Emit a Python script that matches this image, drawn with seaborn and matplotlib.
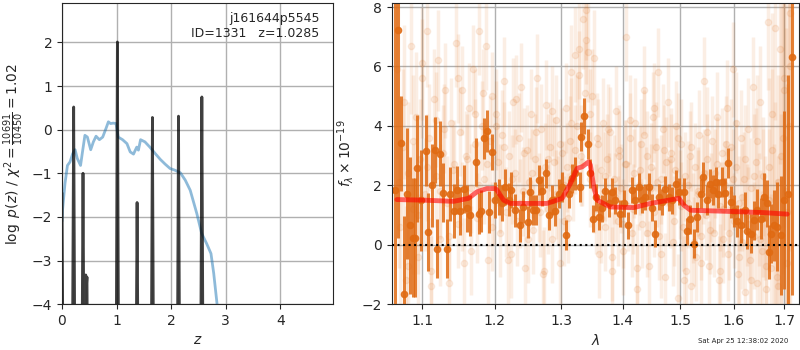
import matplotlib
matplotlib.use("Agg")
import matplotlib.pyplot as plt
from matplotlib.ticker import FixedLocator, NullLocator, ScalarFormatter
import seaborn as sns

# ---- left panel: redshift PDF and chi2 curve ----
pz_z = [0.0, 0.03, 0.18, 0.214, 0.245, 0.355, 0.385, 0.415, 0.42, 0.435, 0.447, 0.458, 0.48,
        0.985, 1.015, 1.045, 1.346, 1.376, 1.406, 1.627, 1.657, 1.687, 2.105, 2.135, 2.165,
        2.533, 2.563, 2.593, 4.9]
pz_logp = [-1.45, -8.0, -8.0, 0.52, -8.0, -8.0, -1.0, -8.0, -6.0, -3.33, -3.6, -3.38, -8.0,
           -8.0, 2.01, -8.0, -8.0, -1.67, -8.0, -8.0, 0.28, -8.0, -8.0, 0.31, -8.0,
           -8.0, 0.75, -8.0, -8.0]

chi_z = [0.0, 0.01, 0.055, 0.10, 0.147, 0.196, 0.24, 0.28, 0.34, 0.38, 0.42, 0.465, 0.526,
         0.575, 0.624, 0.685, 0.746, 0.807, 0.85, 0.89, 0.94, 0.99, 1.03, 1.11, 1.19, 1.25,
         1.31, 1.37, 1.40, 1.44, 1.52, 1.61, 1.71, 1.80, 1.89, 1.98, 2.07, 2.17, 2.26, 2.35,
         2.47, 2.56, 2.65, 2.73, 2.78, 2.84, 2.90]
chi_val = [-2.1, -1.84, -1.23, -0.82, -0.74, -0.55, -0.46, -0.66, -0.82, -0.47, -0.13, -0.17,
           -0.46, -0.28, -0.15, -0.23, -0.17, 0.03, 0.18, 0.14, 0.15, 0.14, -0.17, -0.23, -0.32,
           -0.51, -0.56, -0.40, -0.47, -0.23, -0.28, -0.40, -0.55, -0.68, -0.79, -0.89, -0.93,
           -0.99, -1.16, -1.39, -1.92, -2.38, -2.61, -2.84, -3.29, -3.98, -5.0]

# ---- right panel: spectrum ----
dark_wave = [1.0644, 1.0687, 1.0721, 1.0752, 1.0795, 1.0830, 1.0873, 1.0904, 1.0934, 1.0978,
             1.1045, 1.1080, 1.1125, 1.1170, 1.1192, 1.1228, 1.1269, 1.1328, 1.1373, 1.1419,
             1.1465, 1.1511, 1.1567, 1.1604, 1.1651, 1.1726, 1.1768, 1.1806, 1.1839, 1.1887,
             1.1916, 1.1959, 1.2007, 1.2055, 1.2104, 1.2152, 1.2201, 1.2241, 1.2300, 1.2364,
             1.2414, 1.2484, 1.2524, 1.2564, 1.2615, 1.2650, 1.2701, 1.2768, 1.2804, 1.2855,
             1.2907, 1.2959, 1.3011, 1.3069, 1.3121, 1.3169, 1.3222, 1.3291, 1.3318, 1.3366,
             1.3420, 1.3463, 1.3506, 1.3555, 1.3599, 1.3654, 1.3709, 1.3764, 1.3819, 1.3875,
             1.3947, 1.4015, 1.4088, 1.4156, 1.4213, 1.4270, 1.4328, 1.4385, 1.4443, 1.4502,
             1.4560, 1.4618, 1.4677, 1.4736, 1.4796, 1.4855, 1.4915, 1.4975, 1.5066, 1.5126,
             1.5175, 1.5248, 1.5309, 1.5371, 1.5421, 1.5483, 1.5539, 1.5601, 1.5651, 1.5702,
             1.5778, 1.5828, 1.5886, 1.5937, 1.6001, 1.6066, 1.6143, 1.6208, 1.6260, 1.6326,
             1.6391, 1.6457, 1.6524, 1.6590, 1.6643, 1.6690, 1.6737, 1.6791, 1.6859, 1.6927,
             1.6995, 1.7077, 1.7166]
dark_flux = [1.84, 7.24, 3.41, -1.65, 1.72, 0.65, 0.24, 0.24, 2.57, 1.50,
             3.16, 0.43, 2.00, 3.19, -0.13, 3.07, 1.75, -0.13, 1.70, 1.14,
             1.84, 1.14, 1.87, 1.22, 0.99, 2.79, 1.05, 1.14, 3.58, 3.83,
             1.10, 3.11, 1.50, 1.61, 1.41, 1.95, 1.52, 1.84, 1.16, 0.65,
             1.27, 0.77, 1.78, 1.18, 1.16, 2.17, 1.81, 2.40, 0.99, 1.50,
             1.14, 1.72, 1.95, 0.32, 1.72, 2.23, 2.40, 1.95, 3.64, 4.33,
             3.39, 2.40, 0.88, 1.59, 0.94, 1.22, 1.81, 1.39, 1.78, 1.50,
             1.05, 1.39, 0.65, 1.84, 1.50, 1.95, 1.52, 1.61, 1.95, 1.25,
             0.37, 1.61, 1.44, 1.86, 1.59, 1.50, 2.06, 1.78, 1.78, 0.45,
             0.85, 0.04, 0.94, 1.72, 2.29, 1.50, 2.06, 1.84, 2.12, 1.72,
             2.12, 1.75, 2.74, 1.44, 1.14, 0.80, 0.65, 1.16, 0.45, 0.37,
             0.82, 1.18, 0.88, 1.61, 1.39, -0.25, 0.37, 0.65, 0.60, 0.32,
             1.50, 1.72, 6.31]
dark_err = [8.0, 7.0, 1.6, 2.6, 2.2, 2.3, 2.0, 2.0, 1.8, 1.7,
            1.2, 1.3, 1.4, 1.1, 1.0, 1.1, 1.0, 1.0, 0.9, 0.9,
            0.8, 0.8, 0.8, 0.8, 0.7, 0.8, 0.7, 0.7, 0.7, 0.7,
            0.7, 0.6, 0.6, 0.6, 0.6, 0.6, 0.55, 0.6, 0.55, 0.55,
            0.55, 0.55, 0.5, 0.5, 0.5, 0.5, 0.5, 0.5, 0.5, 0.5,
            0.5, 0.5, 0.5, 0.5, 0.5, 0.5, 0.55, 0.5, 0.5, 0.6,
            0.5, 0.5, 0.45, 0.45, 0.45, 0.45, 0.45, 0.45, 0.45, 0.45,
            0.45, 0.45, 0.45, 0.45, 0.45, 0.45, 0.45, 0.45, 0.45, 0.45,
            0.45, 0.45, 0.45, 0.45, 0.45, 0.45, 0.45, 0.45, 0.45, 0.45,
            0.5, 0.5, 0.5, 0.5, 0.5, 0.5, 0.5, 0.5, 0.5, 0.5,
            0.5, 0.5, 0.5, 0.55, 0.55, 0.55, 0.6, 0.6, 0.6, 0.65,
            0.65, 0.7, 0.7, 0.8, 0.8, 0.9, 1.0, 1.2, 1.5, 2.0,
            3.0, 4.0, 8.0]

# faint points, first set of beams
faint_wave = [1.067, 1.071, 1.074, 1.078, 1.081, 1.085, 1.088, 1.091, 1.094, 1.097,
              1.100, 1.103, 1.106, 1.109, 1.112, 1.115, 1.118, 1.121, 1.124, 1.127,
              1.130, 1.133, 1.136, 1.139, 1.142, 1.145, 1.148, 1.151, 1.154, 1.157,
              1.160, 1.163, 1.166, 1.169, 1.172, 1.175, 1.178, 1.181, 1.184, 1.187,
              1.190, 1.193, 1.196, 1.199, 1.202, 1.205, 1.208, 1.211, 1.214, 1.217,
              1.220, 1.223, 1.226, 1.229, 1.232, 1.235, 1.238, 1.241, 1.244, 1.247,
              1.250, 1.253, 1.256, 1.259, 1.262, 1.265, 1.268, 1.271, 1.274, 1.277,
              1.280, 1.283, 1.286, 1.289, 1.292, 1.295, 1.298, 1.301, 1.304, 1.307,
              1.310, 1.313, 1.316, 1.319, 1.322, 1.325, 1.328, 1.331, 1.334, 1.337,
              1.340, 1.343, 1.346, 1.349, 1.352, 1.355, 1.358, 1.361, 1.364, 1.367,
              1.370, 1.373, 1.376, 1.379, 1.382, 1.385, 1.388, 1.391, 1.394, 1.397,
              1.400, 1.403, 1.406, 1.409, 1.412, 1.415, 1.418, 1.421, 1.424, 1.427,
              1.430, 1.433, 1.436, 1.439, 1.442, 1.445, 1.448, 1.451, 1.454, 1.457,
              1.460, 1.463, 1.466, 1.469, 1.472, 1.475, 1.478, 1.481, 1.484, 1.487,
              1.490, 1.493, 1.496, 1.499, 1.502, 1.505, 1.508, 1.511, 1.514, 1.517,
              1.520, 1.523, 1.526, 1.529, 1.532, 1.535, 1.538, 1.541, 1.544, 1.547,
              1.550, 1.553, 1.556, 1.559, 1.562, 1.565, 1.568, 1.571, 1.574, 1.577,
              1.580, 1.583, 1.586, 1.589, 1.592, 1.595, 1.598, 1.601, 1.604, 1.607,
              1.610, 1.613, 1.616, 1.619, 1.622, 1.625, 1.628, 1.631, 1.634, 1.637,
              1.640, 1.643, 1.646, 1.649, 1.652, 1.655, 1.658, 1.661, 1.664, 1.667,
              1.670, 1.673, 1.676, 1.679, 1.682, 1.685, 1.688, 1.691, 1.694, 1.697,
              1.700, 1.703, 1.706, 1.709, 1.712]
faint_flux = [5.9, 0.6, 3.3, -1.2, 2.4, 6.7, 1.2, 4.3, -0.4, 2.9,
              5.6, 1.7, 7.2, 3.6, -0.9, 4.9, 2.3, 6.2, 0.2, 3.1,
              5.2, 1.4, -1.3, 4.1, 2.7, 6.8, 0.7, 3.8, 5.2, -0.6,
              2.9, 4.6, 1.9, 5.9, 3.4, 0.9, 7.2, 4.0, 2.2, 6.7,
              -0.5, 3.5, 5.0, 1.5, 4.4, 2.8, 0.4, 3.7, 5.5, 1.1,
              3.0, -0.3, 4.8, 2.4, 0.8, 3.6, 5.3, 1.8, -0.8, 3.2,
              2.1, 4.4, 0.5, 2.9, 5.6, 1.6, 3.9, -1.0, 2.6, 4.7,
              1.2, 3.3, 0.2, 2.8, 4.2, 1.5, -0.6, 3.1, 2.0, 4.6,
              0.9, 3.5, 5.8, 2.4, 6.4, 4.0, 6.6, 3.0, 7.6, 5.1,
              7.9, 6.5, 2.2, 5.0, 6.3, 1.2, 3.4, -0.3, 2.5, 4.1,
              0.6, 2.9, 1.6, 3.8, -0.9, 2.2, 4.5, 0.8, 3.2, 1.9,
              -0.2, 2.7, 7.0, 1.3, 3.6, 0.4, 2.4, 4.1, -1.5, 2.0,
              3.4, 0.7, 5.2, 1.8, 3.0, -0.7, 2.6, 4.3, 1.1, 3.3,
              5.8, 0.3, 2.2, 3.9, -1.1, 2.8, 4.8, 1.4, 3.1, 0.1,
              2.5, 4.0, -1.8, 1.7, 3.4, 0.6, 2.3, -0.9, 1.4, 3.0,
              -1.4, 0.9, 2.6, -0.4, 1.8, 3.7, 0.3, 2.2, 5.5, 1.0,
              2.9, -0.7, 1.6, 3.5, 0.4, 2.4, 4.3, -1.2, 1.3, 3.1,
              0.2, 2.0, 4.6, -0.3, 1.7, 3.3, 5.9, 0.8, 2.6, -1.0,
              1.4, 3.6, 0.1, 2.2, -1.6, 1.0, 3.9, -0.5, 1.9, 5.3,
              0.3, 2.8, -1.3, 1.2, 4.8, -0.2, 2.3, 0.9, -1.5, 7.5,
              1.5, -0.8, 3.2, 0.5, 7.3, -1.1, 2.1, 6.6, 0.2, 3.6,
              5.6, 1.8, -0.6, 4.0, 7.8]
faint_err = [3.0, 2.8, 2.6, 2.5, 2.4, 2.3, 2.2, 2.2, 2.1, 2.0,
             2.0, 1.9, 1.9, 1.8, 1.8, 1.7, 1.7, 1.7, 1.6, 1.6,
             1.6, 1.6, 1.5, 1.5, 1.5, 1.5, 1.5, 1.5, 1.5, 1.5,
             1.5, 1.5, 1.5, 1.5, 1.5, 1.5, 1.5, 1.5, 1.5, 1.5,
             1.5, 1.5, 1.5, 1.5, 1.5, 1.5, 1.5, 1.5, 1.5, 1.5,
             1.5, 1.5, 1.5, 1.5, 1.5, 1.5, 1.5, 1.5, 1.5, 1.5,
             1.5, 1.5, 1.5, 1.5, 1.5, 1.5, 1.5, 1.5, 1.5, 1.5,
             1.5, 1.5, 1.5, 1.5, 1.5, 1.5, 1.5, 1.5, 1.5, 1.5,
             1.5, 1.5, 1.6, 1.6, 1.6, 1.7, 1.7, 1.7, 1.7, 1.7,
             1.7, 1.7, 1.6, 1.6, 1.6, 1.5, 1.5, 1.5, 1.5, 1.5,
             1.5, 1.5, 1.5, 1.5, 1.5, 1.5, 1.5, 1.5, 1.5, 1.5,
             1.5, 1.5, 1.5, 1.5, 1.5, 1.5, 1.5, 1.5, 1.5, 1.5,
             1.5, 1.5, 1.5, 1.5, 1.5, 1.5, 1.5, 1.5, 1.5, 1.5,
             1.5, 1.5, 1.5, 1.5, 1.5, 1.5, 1.5, 1.5, 1.5, 1.5,
             1.5, 1.5, 1.5, 1.5, 1.5, 1.5, 1.5, 1.5, 1.5, 1.5,
             1.5, 1.5, 1.5, 1.5, 1.5, 1.5, 1.5, 1.5, 1.5, 1.5,
             1.5, 1.5, 1.5, 1.5, 1.5, 1.5, 1.5, 1.5, 1.5, 1.5,
             1.5, 1.5, 1.6, 1.6, 1.6, 1.6, 1.6, 1.6, 1.6, 1.6,
             1.6, 1.6, 1.6, 1.6, 1.7, 1.7, 1.7, 1.7, 1.7, 1.7,
             1.8, 1.8, 1.8, 1.9, 1.9, 2.0, 2.0, 2.1, 2.2, 2.3,
             2.4, 2.5, 2.7, 2.9, 3.1, 3.3, 3.6, 3.9, 4.2, 4.6,
             5.0, 5.5, 6.0, 7.0, 8.0]

# faint points, second set of beams
faint2_wave = [1.0695, 1.0755, 1.0815, 1.0875, 1.0935, 1.0995, 1.1055, 1.1115, 1.1175, 1.1235,
               1.1295, 1.1355, 1.1415, 1.1475, 1.1535, 1.1595, 1.1655, 1.1715, 1.1775, 1.1835,
               1.1895, 1.1955, 1.2015, 1.2075, 1.2135, 1.2195, 1.2255, 1.2315, 1.2375, 1.2435,
               1.2495, 1.2555, 1.2615, 1.2675, 1.2735, 1.2795, 1.2855, 1.2915, 1.2975, 1.3035,
               1.3095, 1.3155, 1.3215, 1.3275, 1.3335, 1.3395, 1.3455, 1.3515, 1.3575, 1.3635,
               1.3695, 1.3755, 1.3815, 1.3875, 1.3935, 1.3995, 1.4055, 1.4115, 1.4175, 1.4235,
               1.4295, 1.4355, 1.4415, 1.4475, 1.4535, 1.4595, 1.4655, 1.4715, 1.4775, 1.4835,
               1.4895, 1.4955, 1.5015, 1.5075, 1.5135, 1.5195, 1.5255, 1.5315, 1.5375, 1.5435,
               1.5495, 1.5555, 1.5615, 1.5675, 1.5735, 1.5795, 1.5855, 1.5915, 1.5975, 1.6035,
               1.6095, 1.6155, 1.6215, 1.6275, 1.6335, 1.6395, 1.6455, 1.6515, 1.6575, 1.6635,
               1.6695, 1.6755, 1.6815, 1.6875, 1.6935, 1.6995, 1.7055, 1.7115]
faint2_flux = [2.1, 4.8, -0.7, 3.5, 1.0, 6.1, 2.6, -1.4, 4.2, 1.8,
               3.9, 0.3, 2.5, 5.6, 1.3, 3.0, -0.2, 4.4, 2.0, 5.1,
               2.7, 0.6, 4.0, 1.9, 3.3, -0.5, 2.2, 4.9, 1.4, 3.1,
               0.2, 2.4, 3.8, 1.1, -0.9, 2.9, 4.5, 1.7, 3.4, 0.8,
               2.6, 4.1, 3.2, 5.7, 2.8, 6.9, 4.4, 1.9, 3.6, 0.9,
               2.3, 3.9, -0.4, 1.6, 3.0, 0.7, 2.7, 4.2, 1.2, -0.8,
               2.5, 3.7, 0.4, 1.9, 4.6, 2.1, -0.3, 3.2, 1.5, 2.9,
               0.8, 3.6, 1.3, -1.2, 2.0, 3.3, 0.1, 1.7, -0.6, 2.4,
               3.8, 0.5, 1.9, 2.7, -0.9, 1.2, 3.4, 0.4, 2.2, 4.1,
               -0.4, 1.6, 2.9, 0.7, -1.2, 2.3, 3.5, 0.2, 1.4, -0.7,
               2.6, 4.4, 0.9, -1.4, 3.0, 5.2, 1.1, 6.0]
faint2_err = [2.9, 2.6, 2.4, 2.2, 2.0, 1.9, 1.8, 1.7, 1.6, 1.6,
              1.5, 1.5, 1.5, 1.5, 1.5, 1.5, 1.5, 1.5, 1.5, 1.5,
              1.5, 1.5, 1.5, 1.5, 1.5, 1.5, 1.5, 1.5, 1.5, 1.5,
              1.5, 1.5, 1.5, 1.5, 1.5, 1.5, 1.5, 1.5, 1.5, 1.5,
              1.5, 1.5, 1.5, 1.5, 1.5, 1.5, 1.5, 1.5, 1.5, 1.5,
              1.5, 1.5, 1.5, 1.5, 1.5, 1.5, 1.5, 1.5, 1.5, 1.5,
              1.5, 1.5, 1.5, 1.5, 1.5, 1.5, 1.5, 1.5, 1.5, 1.5,
              1.5, 1.5, 1.5, 1.5, 1.5, 1.5, 1.5, 1.5, 1.5, 1.5,
              1.5, 1.5, 1.5, 1.6, 1.6, 1.6, 1.6, 1.6, 1.7, 1.7,
              1.7, 1.8, 1.8, 1.9, 2.0, 2.1, 2.2, 2.3, 2.5, 2.7,
              3.0, 3.4, 3.9, 4.4, 5.0, 6.0, 7.0, 8.0]

model_wave = [1.0666, 1.1013, 1.1419, 1.1627, 1.1745, 1.1887, 1.2007, 1.2031, 1.2128, 1.2226,
              1.2779, 1.3013, 1.3143, 1.3249, 1.3329, 1.3436, 1.3463, 1.3518, 1.3573, 1.3792,
              1.4185, 1.4472, 1.4795, 1.4975, 1.5066, 1.5189, 1.5935, 1.6588, 1.7060]
model_flux = [1.52, 1.50, 1.46, 1.56, 1.78, 1.89, 1.89, 1.84, 1.50, 1.39,
              1.39, 1.56, 2.06, 2.57, 2.62, 2.79, 2.68, 1.95, 1.50, 1.27,
              1.25, 1.39, 1.50, 1.56, 1.33, 1.16, 1.12, 1.08, 1.03]

wave_ticks = [1.1, 1.2, 1.3, 1.4, 1.5, 1.6, 1.7]

sns.set_style("ticks")
plt.rcParams.update({"font.family": ["DejaVu Sans"], "font.size": 10})

fig = plt.figure(figsize=(8, 3.5), dpi=100)
ax1 = fig.add_axes([0.0775, 0.131, 0.339, 0.86])
ax2 = fig.add_axes([0.4896, 0.131, 0.5095, 0.86])
grid_kw = dict(color="#b0b0b0", lw=1)

# Left panel
sns.lineplot(x=chi_z, y=chi_val, color="#1f77b4", alpha=0.5, lw=2, sort=False, ax=ax1)
ax1.fill_between(pz_z, pz_logp, -10, color="0.5", alpha=0.2, lw=0)
sns.lineplot(x=pz_z, y=pz_logp, color="k", alpha=0.75, lw=2, sort=False, ax=ax1)
ax1.set_xlim(0, 4.97)
ax1.set_ylim(-4, 2.9)
ax1.set_xticks([0, 1, 2, 3, 4])
ax1.set_yticks([-4, -3, -2, -1, 0, 1, 2])
ax1.grid(True, **grid_kw)
ax1.set_axisbelow(True)
ax1.set_xlabel("$z$")
ax1.set_ylabel(r"$\log\ p(z)$ / $\chi^2=\frac{10691}{10450}=1.02$")
ax1.text(0.95, 0.97, "j161644p5545\nID=1331   z=1.0285", transform=ax1.transAxes,
         ha="right", va="top", multialignment="right", fontsize=9)

# Right panel
orange = "#e06a12"
ax2.set_xscale("log")
for w, f, e in [(faint_wave, faint_flux, faint_err), (faint2_wave, faint2_flux, faint2_err)]:
    ax2.errorbar(w, f, yerr=e, fmt="o", color=orange, alpha=0.11,
                 ms=4.5, elinewidth=2.5, capsize=0, zorder=1)
ax2.errorbar(dark_wave, dark_flux, yerr=dark_err, fmt="o", color=orange, alpha=0.85,
             ms=4.5, elinewidth=2.2, capsize=0, zorder=2)
sns.lineplot(x=model_wave, y=model_flux, color="red", alpha=0.6, lw=3.5, sort=False,
             ax=ax2, zorder=3)
ax2.axhline(0, color="k", ls=":", lw=1.5, zorder=4)
ax2.set_xlim(1.060, 1.731)
ax2.set_ylim(-2, 8.13)
ax2.xaxis.set_major_locator(FixedLocator(wave_ticks))
ax2.xaxis.set_major_formatter(ScalarFormatter())
ax2.xaxis.set_minor_locator(NullLocator())
ax2.set_yticks([-2, 0, 2, 4, 6, 8])
ax2.grid(True, **grid_kw)
ax2.set_axisbelow(True)
ax2.set_xlabel(r"$\lambda$")
ax2.set_ylabel(r"$f_\lambda \times 10^{-19}$")

fig.text(0.873, 0.02, "Sat Apr 25 12:38:02 2020", fontsize=5)

fig.savefig("out.png", dpi=100)
